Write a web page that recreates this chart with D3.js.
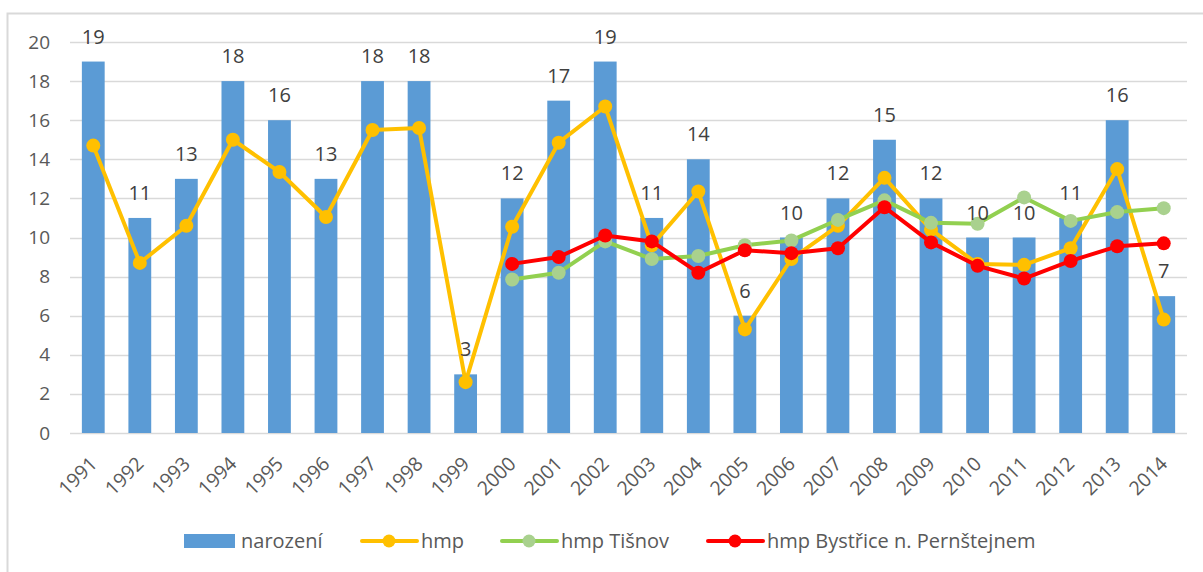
<!DOCTYPE html>
<html>
<head>
<meta charset="utf-8">
<script src="https://cdn.jsdelivr.net/npm/d3@7"></script>
<style>
  body { margin: 0; background: #fff; }
  svg { font-family: "Open Sans", Lato, sans-serif; }
</style>
</head>
<body>
<div id="chart"></div>
<script>
var years = ["1991","1992","1993","1994","1995","1996","1997","1998","1999","2000","2001","2002",
             "2003","2004","2005","2006","2007","2008","2009","2010","2011","2012","2013","2014"];
var narozeni = [19, 11, 13, 18, 16, 13, 18, 18, 3, 12, 17, 19, 11, 14, 6, 10, 12, 15, 12, 10, 10, 11, 16, 7];
var hmp = [14.7, 8.7, 10.6, 15.0, 13.35, 11.05, 15.5, 15.6, 2.6, 10.55, 14.85, 16.7,
           9.6, 12.35, 5.3, 8.9, 10.6, 13.05, 10.4, 8.65, 8.6, 9.45, 13.5, 5.8];
var hmpTisnov = [null, null, null, null, null, null, null, null, null, 7.85, 8.2, 9.8,
                 8.9, 9.05, 9.6, 9.85, 10.9, 11.9, 10.75, 10.7, 12.05, 10.85, 11.3, 11.5];
var hmpBystrice = [null, null, null, null, null, null, null, null, null, 8.65, 9.0, 10.1,
                   9.8, 8.2, 9.35, 9.2, 9.45, 11.55, 9.75, 8.55, 7.9, 8.8, 9.55, 9.7];
var yTicks = [0, 2, 4, 6, 8, 10, 12, 14, 16, 18, 20];

var W = 1203, H = 572;
var margin = { top: 42, right: 16, bottom: 139, left: 70 },
    width = W - margin.left - margin.right,
    height = H - margin.top - margin.bottom;

var svgRoot = d3.select("#chart").append("svg")
    .attr("width", W)
    .attr("height", H);

// outer frame
svgRoot.append("rect")
    .attr("x", 7.5).attr("y", 13.5)
    .attr("width", W).attr("height", H)
    .attr("fill", "none")
    .attr("stroke", "#d9d9d9")
    .attr("stroke-width", 2);

var svg = svgRoot.append("g")
    .attr("transform", "translate(" + margin.left + "," + margin.top + ")");

var x = d3.scaleBand().domain(years).range([0, width]).paddingInner(0.51).paddingOuter(0.255);
var y = d3.scaleLinear().domain([0, 20]).range([height, 0]);
var cx = function (d, i) { return x(years[i]) + x.bandwidth() / 2; };

// gridlines
svg.append("g")
    .selectAll("line")
    .data(yTicks)
    .enter().append("line")
    .attr("x1", 0).attr("x2", width)
    .attr("y1", function (d) { return Math.round(y(d)) + 0.5; })
    .attr("y2", function (d) { return Math.round(y(d)) + 0.5; })
    .attr("stroke", "#d9d9d9")
    .attr("stroke-width", 1.3);

// y axis labels
var yAxis = svg.append("g")
    .attr("transform", "translate(-20,0)")
    .call(d3.axisLeft(y).tickValues(yTicks).tickSize(0).tickPadding(0));
yAxis.select(".domain").remove();
yAxis.selectAll("text")
    .attr("font-size", 19)
    .attr("fill", "#595959")
    .attr("font-family", "'Open Sans', Lato, sans-serif");

// x axis labels
var xAxis = svg.append("g")
    .attr("transform", "translate(0," + height + ")")
    .call(d3.axisBottom(x).tickSize(0).tickPadding(0));
xAxis.select(".domain").remove();
xAxis.selectAll("text")
    .attr("font-size", 19.5)
    .attr("fill", "#595959")
    .attr("font-family", "'Open Sans', Lato, sans-serif")
    .attr("text-anchor", "end")
    .attr("dy", null)
    .attr("transform", "translate(5,32) rotate(-45)");

// bars
svg.append("g")
    .selectAll("rect")
    .data(narozeni)
    .enter().append("rect")
    .attr("x", function (d, i) { return x(years[i]); })
    .attr("y", function (d) { return y(d); })
    .attr("width", x.bandwidth())
    .attr("height", function (d) { return height - y(d); })
    .attr("fill", "#5b9bd5");

// lines
var series = [
    { name: "hmp", values: hmp, line: "#ffc000", dot: "#ffc000" },
    { name: "hmp Tišnov", values: hmpTisnov, line: "#92d050", dot: "#a9d18e" },
    { name: "hmp Bystřice n. Pernštejnem", values: hmpBystrice, line: "#ff0000", dot: "#ff0000" }
];

var line = d3.line()
    .defined(function (d) { return d != null; })
    .x(cx)
    .y(function (d) { return y(d); });

series.forEach(function (s) {
    var g = svg.append("g");
    g.append("path")
        .datum(s.values)
        .attr("fill", "none")
        .attr("stroke", s.line)
        .attr("stroke-width", 4)
        .attr("stroke-linejoin", "round")
        .attr("d", line);
    g.selectAll("circle")
        .data(s.values.map(function (v, i) { return { v: v, i: i }; }).filter(function (d) { return d.v != null; }))
        .enter().append("circle")
        .attr("cx", function (d) { return cx(d.v, d.i); })
        .attr("cy", function (d) { return y(d.v); })
        .attr("r", 7)
        .attr("fill", s.dot);
});

// bar labels
svg.append("g")
    .selectAll("text")
    .data(narozeni)
    .enter().append("text")
    .attr("x", cx)
    .attr("y", function (d) { return y(d) - 18; })
    .attr("text-anchor", "middle")
    .attr("font-size", 20)
    .attr("fill", "#404040")
    .text(function (d) { return d; });

// legend
var legendItems = [
    { type: "bar", name: "narození", color: "#5b9bd5", x: 184 },
    { type: "line", name: "hmp", line: "#ffc000", dot: "#ffc000", x: 362 },
    { type: "line", name: "hmp Tišnov", line: "#92d050", dot: "#a9d18e", x: 502 },
    { type: "line", name: "hmp Bystřice n. Pernštejnem", line: "#ff0000", dot: "#ff0000", x: 708 }
];
var ly = 541;
var legend = svgRoot.append("g");
legendItems.forEach(function (it) {
    var g = legend.append("g").attr("transform", "translate(" + it.x + "," + ly + ")");
    if (it.type === "bar") {
        g.append("rect").attr("x", 0).attr("y", -7).attr("width", 51).attr("height", 14).attr("fill", it.color);
        g.append("text").attr("x", 57).attr("y", 7).attr("font-size", 20).attr("fill", "#595959").text(it.name);
    } else {
        g.append("line").attr("x1", 0).attr("x2", 55).attr("y1", 0).attr("y2", 0)
            .attr("stroke", it.line).attr("stroke-width", 4).attr("stroke-linecap", "round");
        g.append("circle").attr("cx", 27).attr("cy", 0).attr("r", 6.5).attr("fill", it.dot);
        g.append("text").attr("x", 59).attr("y", 7).attr("font-size", 20).attr("fill", "#595959").text(it.name);
    }
});
</script>
</body>
</html>
